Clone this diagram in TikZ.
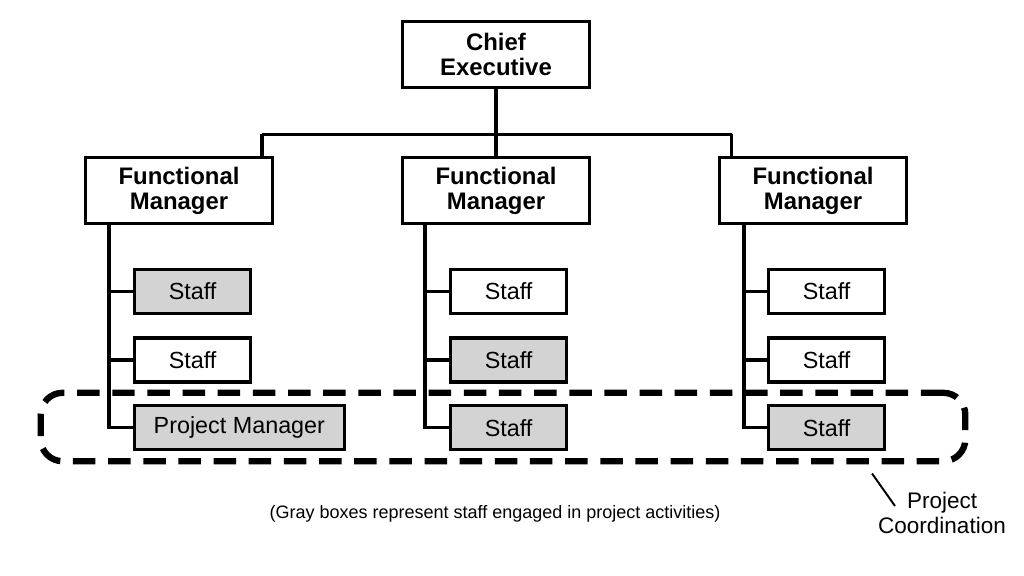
\documentclass[tikz,border=0pt]{standalone}
\usepackage{fontspec}
\setmainfont{Liberation Sans}
\usetikzlibrary{positioning}
\definecolor{staffgray}{RGB}{211,211,211}
\tikzset{
  box/.style={draw=black, rectangle, align=center, line width=2.2pt, fill=white, inner sep=2pt},
  headbox/.style={box, minimum width=4.675cm, minimum height=1.65cm, font=\fontsize{17}{17.8}\selectfont\bfseries},
  staffbox/.style={box, anchor=west, minimum width=2.9cm, minimum height=1.1cm, font=\fontsize{16.6}{18}\selectfont},
  graybox/.style={staffbox, fill=staffgray},
  link/.style={draw=black, line width=2.2pt},
  groupline/.style={draw=black, line width=4.5pt, dash pattern=on 16pt off 9pt, rounded corners=0.55cm}
}

\begin{document}
\begin{tikzpicture}[x=0.025cm, y=-0.025cm]
\useasboundingbox (0,0) rectangle (1024,576);

% project coordination group
\node[groupline, minimum width=23.11cm, minimum height=1.71cm] (group) at (503,427) {};

% top of the chart
\node[headbox] (chief) at (496,54.5) {Chief\\Executive};
\node[headbox] (fm1) at (179,190.5) {Functional\\Manager};
\node[headbox] (fm2) at (496,190.5) {Functional\\Manager};
\node[headbox] (fm3) at (813,190.5) {Functional\\Manager};

\coordinate (busL) at (262,134.5);
\coordinate (busR) at (731.5,134.5);
\draw[link] (chief.south) -- (fm2.north);
\draw[link] (busL) -- (busR);
\draw[link] (busL) -- (busL |- fm1.north);
\draw[link] (busR) -- (busR |- fm3.north);

% staff under each functional manager
\node[graybox] (s11) at (133,291.5) {Staff};
\node[staffbox] (s12) at (133,360) {Staff};
\node[graybox, minimum width=5.24cm] (pm) at (133,427.7) {Project Manager};

\node[staffbox] (s21) at (449,291.5) {Staff};
\node[graybox] (s22) at (449,360) {Staff};
\node[graybox] (s23) at (449,427.7) {Staff};

\node[staffbox] (s31) at (767,291.5) {Staff};
\node[staffbox] (s32) at (767,360) {Staff};
\node[graybox] (s33) at (767,427.7) {Staff};

\coordinate (trunk1) at (109,300);
\coordinate (trunk2) at (425,300);
\coordinate (trunk3) at (744,300);

\draw[link] (trunk1 |- fm1.south) |- (pm.west);
\draw[link] (s11.west) -- (s11.west -| trunk1);
\draw[link] (s12.west) -- (s12.west -| trunk1);

\draw[link] (trunk2 |- fm2.south) |- (s23.west);
\draw[link] (s21.west) -- (s21.west -| trunk2);
\draw[link] (s22.west) -- (s22.west -| trunk2);

\draw[link] (trunk3 |- fm3.south) |- (s33.west);
\draw[link] (s31.west) -- (s31.west -| trunk3);
\draw[link] (s32.west) -- (s32.west -| trunk3);

% notes
\node[font=\fontsize{12.8}{15}\selectfont] (note) at (495,514) {(Gray boxes represent staff engaged in project activities)};
\node[align=center, font=\fontsize{16}{18.3}\selectfont, inner sep=0pt] (pc) at (942,513) {Project\\Coordination};
\coordinate (leadA) at (872,473.5);
\coordinate (leadB) at (895,506);
\draw[draw=black, line width=1.4pt] (leadA) -- (leadB);

\end{tikzpicture}
\end{document}
